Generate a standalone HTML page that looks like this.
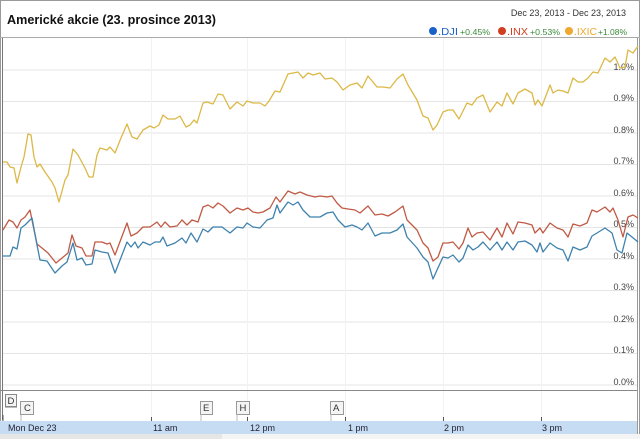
<!DOCTYPE html><html><head><meta charset="utf-8"><style>
body{margin:0;background:#fff;width:640px;height:439px;overflow:hidden;font-family:"Liberation Sans",sans-serif}
</style></head><body>
<svg width="640" height="439" xmlns="http://www.w3.org/2000/svg" font-family="Liberation Sans, sans-serif">
<rect x="0" y="0" width="640" height="439" fill="#fff"/>
<rect x="0.5" y="0.5" width="639" height="438" fill="none" stroke="#999"/>
<line x1="0" y1="37.5" x2="640" y2="37.5" stroke="#aaa"/>
<text x="7" y="24" font-size="12.5" font-weight="bold" fill="#111" textLength="209" lengthAdjust="spacingAndGlyphs">Americké akcie (23. prosince 2013)</text>
<text x="626" y="16" font-size="9" fill="#333" text-anchor="end">Dec 23, 2013  -  Dec 23, 2013</text>
<g>
<circle cx="433" cy="31" r="4" fill="#1a62c8"/><text x="438" y="35" fill="#1a62c8" font-size="10" textLength="20" lengthAdjust="spacingAndGlyphs">.DJI</text><text x="460" y="35" fill="#3a8a3a" font-size="8" textLength="30" lengthAdjust="spacingAndGlyphs">+0.45%</text>
<circle cx="502" cy="31" r="4" fill="#d04020"/><text x="507" y="35" fill="#d04020" font-size="10" textLength="21" lengthAdjust="spacingAndGlyphs">.INX</text><text x="530" y="35" fill="#3a8a3a" font-size="8" textLength="30" lengthAdjust="spacingAndGlyphs">+0.53%</text>
<circle cx="569" cy="31" r="4" fill="#f0a830"/><text x="574" y="35" fill="#f0a830" font-size="10" textLength="23" lengthAdjust="spacingAndGlyphs">.IXIC</text><text x="598" y="35" fill="#3a8a3a" font-size="8" textLength="29" lengthAdjust="spacingAndGlyphs">+1.08%</text>
</g>
<g stroke="#e4e4e4" stroke-width="1">
<line x1="3" y1="70" x2="637" y2="70"/><line x1="3" y1="101.5" x2="637" y2="101.5"/><line x1="3" y1="133" x2="637" y2="133"/><line x1="3" y1="164.5" x2="637" y2="164.5"/><line x1="3" y1="196" x2="637" y2="196"/><line x1="3" y1="227.5" x2="637" y2="227.5"/><line x1="3" y1="259" x2="637" y2="259"/><line x1="3" y1="290.5" x2="637" y2="290.5"/><line x1="3" y1="322" x2="637" y2="322"/><line x1="3" y1="353.5" x2="637" y2="353.5"/><line x1="3" y1="385" x2="637" y2="385"/>
</g>
<g stroke="#f2f2f2"><line x1="151.5" y1="38" x2="151.5" y2="420"/><line x1="247.5" y1="38" x2="247.5" y2="420"/><line x1="345.5" y1="38" x2="345.5" y2="420"/><line x1="443.5" y1="38" x2="443.5" y2="420"/><line x1="541.5" y1="38" x2="541.5" y2="420"/></g>
<line x1="2.5" y1="38" x2="2.5" y2="420" stroke="#777"/>
<line x1="637.5" y1="38" x2="637.5" y2="439" stroke="#999"/>
<g font-size="9" fill="#444" text-anchor="end">
<text x="634" y="70">1.0%</text><text x="634" y="101">0.9%</text><text x="634" y="133">0.8%</text><text x="634" y="164">0.7%</text><text x="634" y="196">0.6%</text><text x="634" y="227">0.5%</text><text x="634" y="259">0.4%</text><text x="634" y="290">0.3%</text><text x="634" y="322">0.2%</text><text x="634" y="353">0.1%</text><text x="634" y="385">0.0%</text>
</g>
<g fill="none" stroke-width="1.3" stroke-linejoin="round">
<polyline stroke="#dcb845" points="3,162 7,162 10,167 14,168 17,183 21,167 24,157 28,134 31,135 34,157 37,167 40,164 45,172 52,182 55,188 59,202 65,180 68,175 73,149 78,155 85,168 89,177 93,177 97,155 100,148 107,150 110,147 115,153 121,138 127,124 132,137 137,139 143,130 150,126 154,128 159,125 163,115 168,119 175,119 180,116 186,127 190,125 194,120 197,123 203,103 207,102 213,104 218,94 223,95 230,109 237,102 243,106 247,101 253,103 260,103 265,106 269,101 275,91 280,92 288,74 293,73 298,72 303,78 308,73 313,75 320,73 325,79 332,78 337,82 343,90 350,85 357,83 362,88 368,76 377,87 383,87 390,88 397,79 403,74 408,85 417,100 423,116 428,118 433,130 437,125 443,112 448,110 453,110 459,119 467,103 472,105 477,98 483,95 490,112 497,102 502,106 507,93 513,104 518,93 525,89 532,93 535,105 538,100 542,106 547,93 550,85 553,93 558,90 563,91 568,93 573,78 578,82 583,82 588,78 593,72 598,73 605,58 610,62 615,57 620,68 625,67 628,50 633,53 638,46"/>
<polyline stroke="#c05a45" points="3,230 9,220 13,222 17,228 21,220 25,217 30,210 33,225 37,244 42,248 48,253 56,263 62,258 68,253 72,235 76,246 82,248 86,256 92,256 95,242 102,242 107,244 110,243 115,255 127,223 131,236 137,233 143,227 150,227 157,222 161,227 165,222 170,227 177,226 182,220 187,225 192,220 198,222 203,207 208,205 213,208 218,203 223,206 230,213 237,208 243,210 248,208 253,212 258,213 263,212 270,208 276,197 280,202 288,191 295,194 300,192 307,195 315,197 320,196 327,197 332,196 337,203 342,208 348,209 355,210 360,213 368,206 375,215 382,214 388,216 395,212 403,206 407,220 417,230 423,243 428,248 433,261 438,257 443,243 448,243 453,242 459,249 463,243 468,228 472,237 477,233 483,232 490,240 497,228 502,237 507,223 513,234 518,222 525,223 532,225 535,233 540,228 543,233 550,223 557,228 563,230 568,237 573,224 580,226 587,223 592,210 597,212 605,207 610,212 613,208 618,220 623,237 628,217 633,215 638,218"/>
<polyline stroke="#3f82ad" points="3,256 10,256 13,247 17,249 21,228 25,225 32,218 37,245 40,260 47,261 55,273 62,266 67,262 73,243 77,260 82,258 86,265 92,264 95,250 102,252 108,253 115,273 127,242 131,247 135,242 138,248 143,242 150,245 155,242 160,242 163,237 167,246 175,243 182,238 186,243 191,233 197,242 203,229 208,232 213,227 222,227 230,233 237,227 243,228 247,223 253,227 260,228 267,220 273,218 277,205 280,213 288,202 293,205 298,202 303,210 310,217 320,217 327,213 333,212 338,220 345,227 352,225 357,227 362,230 368,223 375,236 382,233 390,233 397,230 403,224 407,237 417,248 423,257 428,262 433,279 437,270 443,257 448,258 453,255 459,262 463,258 468,245 473,250 478,247 483,242 490,250 497,242 502,250 507,242 513,250 518,242 525,241 532,245 537,252 540,243 543,252 550,243 557,248 563,250 568,261 573,247 580,250 587,247 592,236 597,233 605,228 612,233 617,250 622,253 627,233 632,237 638,242"/>
</g>
<line x1="0" y1="390.5" x2="637" y2="390.5" stroke="#888"/>
<rect x="0" y="421" width="637" height="13" fill="#c6dcf2"/>
<rect x="0" y="434" width="222" height="5" fill="#e6e6e6"/>
<rect x="222" y="434" width="418" height="5" fill="#f4f4f4"/>
<g stroke="#555"><line x1="3" y1="415" x2="3" y2="421"/><line x1="151.5" y1="417" x2="151.5" y2="421"/><line x1="247.5" y1="417" x2="247.5" y2="421"/><line x1="345.5" y1="417" x2="345.5" y2="421"/><line x1="443.5" y1="417" x2="443.5" y2="421"/><line x1="541.5" y1="417" x2="541.5" y2="421"/></g>
<g font-size="9" fill="#223">
<text x="8" y="431">Mon Dec 23</text><text x="153" y="431">11 am</text><text x="250" y="431">12 pm</text><text x="348" y="431">1 pm</text><text x="444" y="431">2 pm</text><text x="542" y="431">3 pm</text>
</g>
<g font-size="9.5" fill="#333" stroke-width="1">
<rect x="5" y="400" width="12" height="8" fill="#bbb"/>
<rect x="5.5" y="394.5" width="11" height="12" fill="#f4f4f4" stroke="#888"/><text x="7.5" y="404">D</text>
<line x1="21" y1="414" x2="21" y2="421" stroke="#bbb"/><rect x="20.5" y="401.5" width="13" height="13" fill="#f4f4f4" stroke="#999"/><text x="24" y="411">C</text>
<rect x="200.5" y="401.5" width="12" height="13" fill="#f4f4f4" stroke="#999"/><text x="203" y="411">E</text>
<line x1="201" y1="414" x2="201" y2="421" stroke="#bbb"/>
<rect x="236.5" y="401.5" width="13" height="13" fill="#f4f4f4" stroke="#999"/><text x="239.5" y="411">H</text>
<line x1="237" y1="414" x2="237" y2="421" stroke="#bbb"/>
<rect x="330.5" y="401.5" width="13" height="13" fill="#f4f4f4" stroke="#999"/><text x="333" y="411">A</text>
<line x1="331" y1="414" x2="331" y2="421" stroke="#bbb"/>
</g>
</svg>
</body></html>
